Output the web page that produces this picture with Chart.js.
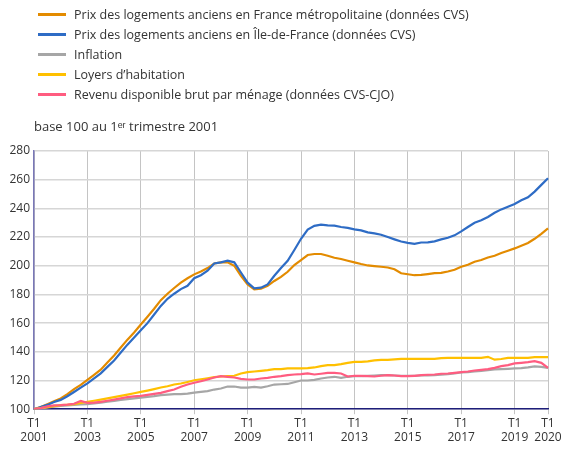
<!DOCTYPE html>
<html>
<head>
<meta charset="utf-8">
<script src="https://cdn.jsdelivr.net/npm/chart.js@4.4.1/dist/chart.umd.min.js"></script>
<style>
  body { margin: 0; background: #fff; font-family: "Open Sans", sans-serif; color: #333; }
  #wrap { position: relative; width: 564px; height: 451px; }
  canvas { position: absolute; left: 0; top: 0; }
  #legend { position: absolute; left: 38px; top: 4px; }
  .item { display: flex; align-items: center; height: 20px; font-size: 12.5px; white-space: nowrap; }
  .item .sw { display: inline-block; width: 28px; height: 3px; margin-right: 8px; }
  #subtitle { position: absolute; left: 34px; top: 117px; font-size: 13px; white-space: nowrap; }
</style>
</head>
<body>
<div id="wrap">
  <canvas id="lineChart" width="564" height="451"></canvas>
  <div id="legend"></div>
  <div id="subtitle">base 100 au 1ᵉʳ trimestre 2001</div>
</div>
<script>
// Quarters T1 2001 ... T2 2020
var quarters = [];
for (var y = 2001; y <= 2020; y++) {
    for (var q = 1; q <= 4; q++) {
        if (y === 2020 && q > 2) break;
        quarters.push('T' + q + ' ' + y);
    }
}

// tick labels shown on the x axis (as printed on the original)
var xTickIdx = [0, 8, 16, 24, 32, 40, 48, 56, 64, 72, 77];
var xTickLabels = [['T1', '2001'], ['T1', '2003'], ['T1', '2005'], ['T1', '2007'], ['T1', '2009'],
    ['T1', '2011'], ['T1', '2013'], ['T1', '2015'], ['T1', '2017'], ['T1', '2019'], ['T1', '2020']];

var seriesNames = [
    'Prix des logements anciens en France métropolitaine (données CVS)',
    'Prix des logements anciens en Île-de-France (données CVS)',
    'Inflation',
    'Loyers d\u2019habitation',
    'Revenu disponible brut par ménage (données CVS-CJO)'
];
var seriesColors = ['#E38B00', '#2E6CC5', '#A6A6A6', '#FFC000', '#FF5C80'];

var prixFrance = [100, 101.5, 103.5, 105.5, 107.5, 110.5, 114, 117, 120.5, 124, 127.5, 132.5, 137.5, 143, 148.5, 153.5,
    159, 164.5, 170, 176, 180.5, 184.5, 188.3, 191.3, 194, 196, 198.4, 201.6, 202.4, 202.4, 200, 193,
    187, 183.5, 184, 186, 189.4, 192.2, 195.8, 200.5, 204, 207.5, 208.2, 208.2, 207, 205.6, 204.7, 203.5,
    202.4, 201.2, 200.2, 199.8, 199.3, 198.8, 197.6, 194.8, 194.1, 193.4, 193.6, 194.2, 194.9, 195, 196, 197.2,
    199.3, 200.7, 202.8, 204, 205.8, 207, 208.9, 210.5, 212.1, 214, 215.9, 218.8, 222.3, 226];

var prixIdf = [100, 101.5, 103, 105, 106.5, 109, 112, 115, 118, 121.5, 125, 129.5, 134, 139.5, 145, 150,
    155, 160, 166, 172, 177, 180.5, 183.7, 186, 191.3, 193.4, 196.5, 201.6, 202.4, 203.5, 202.4, 195.3,
    188.2, 184.2, 184.7, 187, 193, 198.4, 203.5, 211, 218.8, 225.2, 227.8, 228.7, 228.2, 228, 227, 226.4,
    225.4, 224.7, 223.3, 222.6, 221.6, 220, 218.4, 216.9, 216, 215.3, 216.2, 216.3, 217, 218.4, 219.5, 221.2,
    224, 227, 230, 231.7, 234, 236.9, 239.3, 241.2, 243, 245.6, 247.7, 251.7, 256.4, 261];

var inflation = [100, 100.6, 101.2, 101.8, 102.3, 102.6, 103, 103.3, 103.5, 104.1, 104.6, 105.2, 105.8, 106.4, 107, 107.5,
    108.1, 108.6, 109.1, 109.8, 110.2, 110.5, 110.5, 110.9, 111.6, 112.1, 112.6, 113.7, 114.4, 115.8, 115.8, 115.1,
    115.1, 115.6, 115.1, 116, 117.2, 117.4, 117.6, 118.8, 120, 120, 120.5, 121.4, 122.1, 122.6, 121.9, 122.6,
    123, 123, 123.3, 123.5, 123.7, 123.7, 123.5, 123.3, 123.3, 123.3, 123.5, 123.6, 123.7, 124, 124.4, 125,
    125.6, 125.8, 126.3, 126.7, 127.2, 127.7, 127.9, 128.1, 128.4, 128.6, 129.1, 129.8, 129.5, 128.8];

var loyers = [100, 100.8, 101.4, 102.1, 102.8, 103.1, 103.5, 104.3, 105.1, 105.9, 106.7, 107.5, 108.4, 109.3, 110.2, 111.1,
    112.1, 113, 114, 115.1, 116, 117.2, 117.9, 119, 120.2, 120.9, 121.6, 122.3, 122.8, 123, 123.3, 124.9,
    125.8, 126.3, 126.7, 127.2, 127.9, 127.9, 128.4, 128.5, 128.4, 128.6, 129.1, 130, 130.7, 130.7, 131.4, 132.3,
    133, 133, 133.3, 134, 134.4, 134.4, 134.7, 135.1, 135.1, 135.1, 135.1, 135.1, 135.1, 135.6, 135.8, 135.8,
    135.8, 135.8, 135.8, 135.8, 136.5, 134.5, 135, 135.8, 135.8, 135.8, 135.8, 136.3, 136.3, 136.3];

var revenu = [100, 100.8, 102, 102.6, 102.8, 103.2, 103.8, 105.8, 104.4, 104.6, 105.1, 105.9, 106.7, 107.6, 108.4, 108.9,
    109.3, 110, 110.7, 111.4, 112.6, 113.7, 115.6, 117.2, 118.4, 119.5, 120.7, 122.1, 123, 122.6, 122.1, 121.2,
    120.7, 120.7, 121.4, 121.9, 122.6, 123, 123.7, 124.2, 124.4, 124.9, 124.2, 124.7, 125.3, 125.3, 124.9, 122.8,
    123.3, 123.3, 123, 122.8, 123.3, 123.7, 123.5, 123, 123, 123.3, 123.7, 124, 124.2, 124.7, 124.9, 125.3,
    125.8, 126.3, 127, 127.4, 127.9, 128.8, 130, 130.7, 131.9, 132.3, 132.8, 133.5, 132.3, 128.8];

var seriesValues = [prixFrance, prixIdf, inflation, loyers, revenu];

var datasets = seriesValues.map(function (vals, i) {
    return {
        label: seriesNames[i],
        data: vals,
        borderColor: seriesColors[i],
        backgroundColor: seriesColors[i],
        borderWidth: 2.2,
        pointRadius: 0,
        tension: 0,
        order: seriesValues.length - i   // last series drawn on top
    };
});

Chart.defaults.font.family = '"Open Sans", sans-serif';
Chart.defaults.color = '#333';

var ctx = document.getElementById('lineChart').getContext('2d');
var myChart = new Chart(ctx, {
    type: 'line',
    data: {
        labels: quarters,
        datasets: datasets
    },
    options: {
        responsive: false,
        animation: false,
        layout: {
            padding: { top: 151, right: 16, bottom: 4, left: 0 }
        },
        plugins: {
            legend: { display: false },
            tooltip: { enabled: false }
        },
        scales: {
            x: {
                afterBuildTicks: function (scale) {
                    scale.ticks = scale.ticks.filter(function (t) {
                        return xTickIdx.indexOf(t.value) >= 0;
                    });
                },
                ticks: {
                    autoSkip: false,
                    maxRotation: 0,
                    padding: 2,
                    font: { size: 12 },
                    color: '#333',
                    callback: function (value) {
                        return xTickLabels[xTickIdx.indexOf(value)];
                    }
                },
                grid: {
                    color: '#c4c4c4',
                    lineWidth: 1,
                    tickLength: 5
                },
                border: { color: '#1e1e7a', width: 1.5 }
            },
            y: {
                min: 100,
                max: 280,
                afterFit: function (scale) { scale.width = 34; },
                ticks: {
                    stepSize: 20,
                    padding: 4,
                    font: { size: 12 },
                    color: '#333'
                },
                grid: {
                    color: '#d6d6d6',
                    lineWidth: 1.6,
                    drawTicks: false
                },
                border: { color: '#7a78b8', width: 1.5 }
            }
        }
    }
});

// legend built from the chart's datasets, one item per line
var legendEl = document.getElementById('legend');
myChart.data.datasets.forEach(function (ds) {
    var item = document.createElement('div');
    item.className = 'item';
    var sw = document.createElement('span');
    sw.className = 'sw';
    sw.style.background = ds.borderColor;
    var txt = document.createElement('span');
    txt.textContent = ds.label;
    item.appendChild(sw);
    item.appendChild(txt);
    legendEl.appendChild(item);
});
</script>
</body>
</html>
